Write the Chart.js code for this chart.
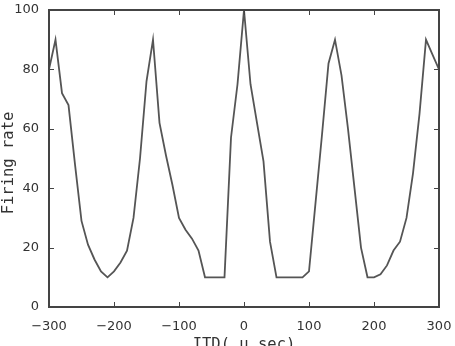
<!DOCTYPE html>
<html>
<head>
<meta charset="utf-8">
<script src="https://cdn.jsdelivr.net/npm/chart.js@4/dist/chart.umd.min.js"></script>
<style>
html,body{margin:0;padding:0;background:#fff;}
#c{display:block;}
</style>
</head>
<body>
<canvas id="c" width="455" height="346"></canvas>
<script>
const itd = [-300,-290,-280,-270,-260,-250,-240,-230,-220,-210,-200,-190,-180,-170,-160,-150,-140,-130,-120,-110,-100,-90,-80,-70,-60,-50,-40,-30,-20,-10,0,10,20,30,40,50,60,70,80,90,100,110,120,130,140,150,160,170,180,190,200,210,220,230,240,250,260,270,280,290,300];
const firingRate = [80,90,72,68,48,29,21,16,12,10,12,15,19,30,50,76,90,62,51,41,30,26,23,19,10,10,10,10,57,75,100,75,62,49,22,10,10,10,10,10,12,35,58,82,90,78,60,40,20,10,10,11,14,19,22,30,45,65,90,85,80];
const xTicks = [-300,-200,-100,0,100,200,300];
const yTicks = [0,20,40,60,80,100];
const xTitle = 'ITD( µ sec)';
const yTitle = 'Firing rate';

const axisColor = '#444';
const textColor = '#333';

const framePlugin = {
  id: 'frame',
  afterDraw(chart) {
    const ctx = chart.ctx;
    const a = chart.chartArea;
    const xs = chart.scales.x, ys = chart.scales.y;
    const tl = 5;
    const L = Math.round(a.left), R = Math.round(a.right), T = Math.round(a.top), B = Math.round(a.bottom);
    ctx.save();
    ctx.fillStyle = axisColor;
    ctx.fillRect(L - 1, T - 1, R - L + 2, 2);
    ctx.fillRect(L - 1, B - 1, R - L + 2, 2);
    ctx.fillRect(L - 1, T - 1, 2, B - T + 2);
    ctx.fillRect(R - 1, T - 1, 2, B - T + 2);
    xTicks.forEach(v => {
      const px = Math.round(xs.getPixelForValue(v));
      ctx.fillRect(px, B - tl, 1, tl);
      ctx.fillRect(px, T, 1, tl);
    });
    yTicks.forEach(v => {
      const py = Math.round(ys.getPixelForValue(v));
      ctx.fillRect(L, py, tl, 1);
      ctx.fillRect(R - tl, py, tl, 1);
    });
    ctx.fillStyle = textColor;
    ctx.font = '15.5px "DejaVu Sans Mono"';
    ctx.textAlign = 'center';
    ctx.textBaseline = 'top';
    ctx.fillText(xTitle, (L + R) / 2, 337);
    ctx.textBaseline = 'middle';
    ctx.translate(9, 163);
    ctx.rotate(-Math.PI / 2);
    ctx.fillText(yTitle, 0, 0);
    ctx.restore();
  }
};

new Chart(document.getElementById('c'), {
  type: 'line',
  data: {
    datasets: [{
      data: itd.map((x, i) => ({x: x, y: firingRate[i]})),
      borderColor: '#555',
      borderWidth: 1.8,
      pointRadius: 0,
      tension: 0,
      fill: false
    }]
  },
  options: {
    responsive: false,
    animation: false,
    events: [],
    layout: {autoPadding: false, padding: {top: 10, right: 16, left: 0, bottom: 0}},
    plugins: {legend: {display: false}, tooltip: {enabled: false}},
    scales: {
      x: {
        type: 'linear', min: -300, max: 300,
        afterBuildTicks: s => { s.ticks = xTicks.map(v => ({value: v})); },
        afterFit: s => { s.height = 39; s.paddingLeft = 0; s.paddingRight = 0; s.paddingTop = 0; s.paddingBottom = 0; },
        grid: {display: false, drawTicks: false},
        border: {display: false},
        ticks: {color: textColor, padding: 12, maxRotation: 0, autoSkip: false,
                font: {family: '"DejaVu Sans"', size: 13},
                callback: v => String(v).replace('-', '\u2212')}
      },
      y: {
        type: 'linear', min: 0, max: 100,
        afterBuildTicks: s => { s.ticks = yTicks.map(v => ({value: v})); },
        afterFit: s => { s.width = 49; s.paddingLeft = 0; s.paddingRight = 0; s.paddingTop = 0; s.paddingBottom = 0; },
        grid: {display: false, drawTicks: false},
        border: {display: false},
        ticks: {color: textColor, padding: 10,
                font: {family: '"DejaVu Sans"', size: 13}}
      }
    }
  },
  plugins: [framePlugin]
});
</script>
</body>
</html>
